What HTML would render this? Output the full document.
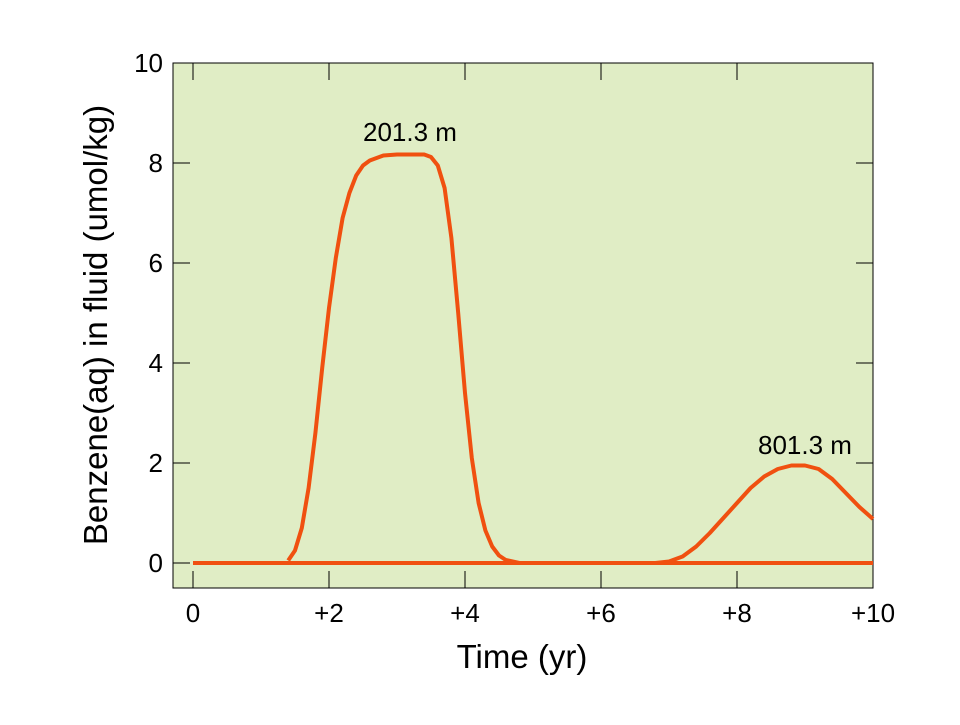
<!DOCTYPE html>
<html><head><meta charset="utf-8"><style>
body{margin:0;background:#fff;}
text{font-family:"Liberation Sans",Arial,sans-serif;}
</style></head><body>
<svg id="chart" width="960" height="720" xmlns="http://www.w3.org/2000/svg">
<rect x="173" y="63" width="700" height="525" fill="#e0edc5" stroke="#000" stroke-width="1"/>
<g id="ticks"></g>
<g id="series"></g>
<text x="410" y="141" font-size="26" text-anchor="middle">201.3 m</text>
<text x="805" y="454" font-size="26" text-anchor="middle">801.3 m</text>
<text x="522" y="668" font-size="33" text-anchor="middle">Time (yr)</text>
<text transform="translate(107,325) rotate(-90)" font-size="33" text-anchor="middle">Benzene(aq) in fluid (umol/kg)</text>
</svg>
<script>
const xTicks=[0,2,4,6,8,10];
const xTickLabels=["0","+2","+4","+6","+8","+10"];
const yTicks=[0,2,4,6,8,10];
const yTickLabels=["0","2","4","6","8","10"];
const seriesZeroT=[0,10];
const seriesZeroV=[0,0];
const series201T=[1.4,1.5,1.6,1.7,1.8,1.9,2.0,2.1,2.2,2.3,2.4,2.5,2.6,2.8,3.0,3.2,3.4,3.5,3.6,3.7,3.8,3.9,4.0,4.1,4.2,4.3,4.4,4.5,4.6,4.8];
const series201V=[0.05,0.25,0.7,1.5,2.6,3.9,5.1,6.1,6.9,7.4,7.75,7.95,8.05,8.15,8.17,8.17,8.17,8.12,7.95,7.5,6.5,5.0,3.4,2.1,1.2,0.65,0.33,0.15,0.06,0.0];
const series801T=[6.8,7.0,7.2,7.4,7.6,7.8,8.0,8.2,8.4,8.6,8.8,9.0,9.2,9.4,9.6,9.8,10.0];
const series801V=[0.0,0.03,0.13,0.33,0.6,0.9,1.2,1.5,1.73,1.88,1.95,1.95,1.88,1.68,1.4,1.12,0.88];
const sx=t=>193+t*68;
const sy=v=>563-v*50;
const NS="http://www.w3.org/2000/svg";
const tg=document.getElementById('ticks');
function mk(tag,attrs,parent){const e=document.createElementNS(NS,tag);for(const k in attrs)e.setAttribute(k,attrs[k]);parent.appendChild(e);return e;}
xTicks.forEach((t,i)=>{
  const a=mk('line',{x1:sx(t),x2:sx(t),y1:588,y2:571,stroke:'#000'},tg);
  
  
  const b=mk('line',{x1:sx(t),x2:sx(t),y1:63,y2:80,stroke:'#000'},tg);
  
  
  const l=mk('text',{x:sx(t),y:622,'font-size':26,'text-anchor':'middle'},tg);
  l.textContent=xTickLabels[i];
  
  
});
yTicks.forEach((v,i)=>{
  const a=mk('line',{x1:173,x2:190,y1:sy(v),y2:sy(v),stroke:'#000'},tg);
  
  
  const b=mk('line',{x1:856,x2:873,y1:sy(v),y2:sy(v),stroke:'#000'},tg);
  
  
  const l=mk('text',{x:163,y:sy(v)+9,'font-size':26,'text-anchor':'end'},tg);
  l.textContent=yTickLabels[i];
  
  
});
const sg=document.getElementById('series');
function line(T,V,name){
  const d=T.map((t,i)=>(i?'L':'M')+sx(t).toFixed(1)+','+sy(V[i]).toFixed(1)).join(' ');
  const p=mk('path',{d:d,fill:'none',stroke:'#f05010','stroke-width':4,'stroke-linejoin':'round'},sg);
  
  
}
line(seriesZeroT,seriesZeroV,'series-zero-line');
line(series201T,series201V,'series-201m');
line(series801T,series801V,'series-801m');
</script>
</body></html>
